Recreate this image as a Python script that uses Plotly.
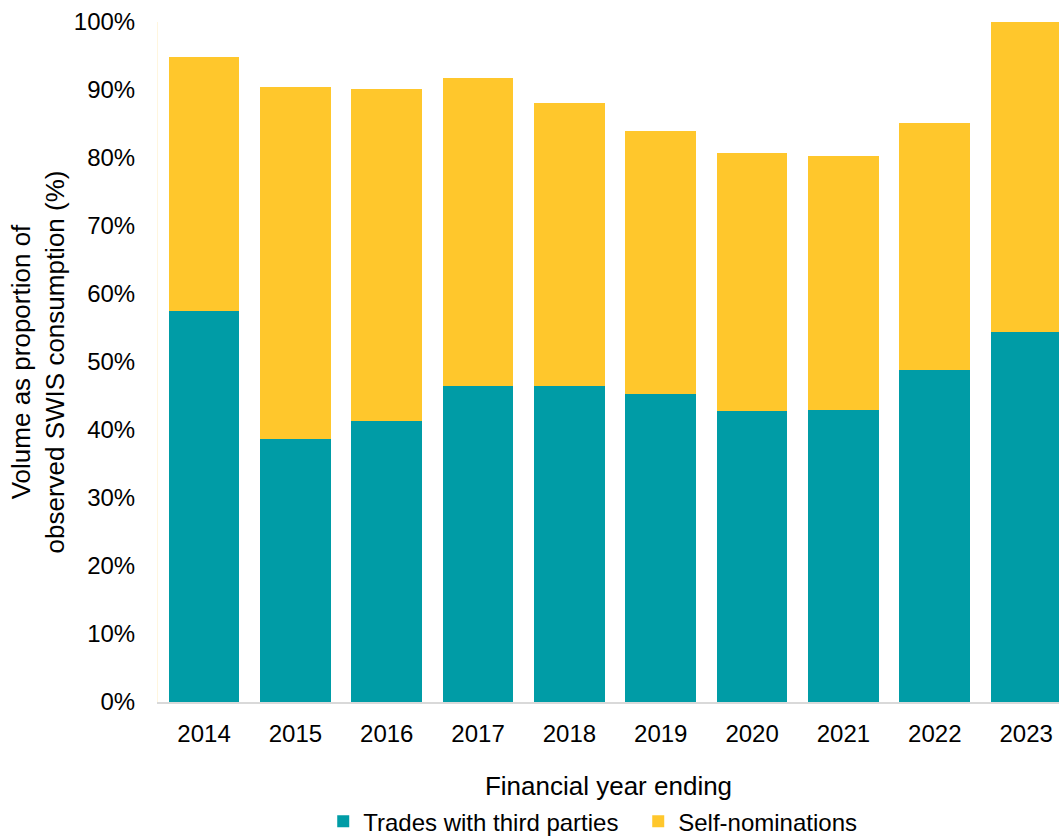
import plotly.graph_objects as go

years = ["2014", "2015", "2016", "2017", "2018", "2019", "2020", "2021", "2022", "2023"]
trades = [57.5, 38.7, 41.3, 46.5, 46.4, 45.3, 42.8, 43.0, 48.8, 54.4]
totals = [94.8, 90.4, 90.2, 91.8, 88.1, 84.0, 80.8, 80.3, 85.1, 100.0]
self_nom = [round(t - a, 1) for t, a in zip(totals, trades)]

TEAL = "#009CA6"
YELLOW = "#FFC72C"
FONT = "Liberation Sans, Arial, sans-serif"

fig = go.Figure()
fig.add_trace(go.Bar(x=years, y=[v / 100 for v in trades], name="Trades with third parties",
                     marker=dict(color=TEAL, line=dict(width=0))))
fig.add_trace(go.Bar(x=years, y=[v / 100 for v in self_nom], name="Self-nominations",
                     marker=dict(color=YELLOW, line=dict(width=0))))

fig.update_layout(
    width=1059, height=837,
    barmode="stack", bargap=0.226,
    plot_bgcolor="white", paper_bgcolor="white",
    margin=dict(l=158, r=0, t=22, b=135, autoexpand=False),
    font=dict(family=FONT, size=24, color="#000000"),
    showlegend=True,
    legend=dict(orientation="h", x=0.533, xanchor="center", y=-0.176, yanchor="middle",
                font=dict(size=24), itemwidth=30, tracegroupgap=0,
                entrywidth=270, entrywidthmode="pixels",
                traceorder="normal"),
    xaxis=dict(type="category", range=[-0.504, 9.36], showgrid=False,
               showline=True, linecolor="#D9D9D9", linewidth=2,
               ticks="", ticklabelstandoff=9,
               title=dict(text="Financial year ending", standoff=31, font=dict(size=26))),
    yaxis=dict(range=[0, 1], tickformat=".0%", dtick=0.1, showgrid=False,
               showline=True, linecolor="#FFF6DF", linewidth=1,
               ticks="", ticklabelstandoff=17, zeroline=False,
               title=dict(text="Volume as proportion of<br>observed SWIS consumption (%)",
                          standoff=1, font=dict(size=26))),
)

fig.write_html("out.html")
